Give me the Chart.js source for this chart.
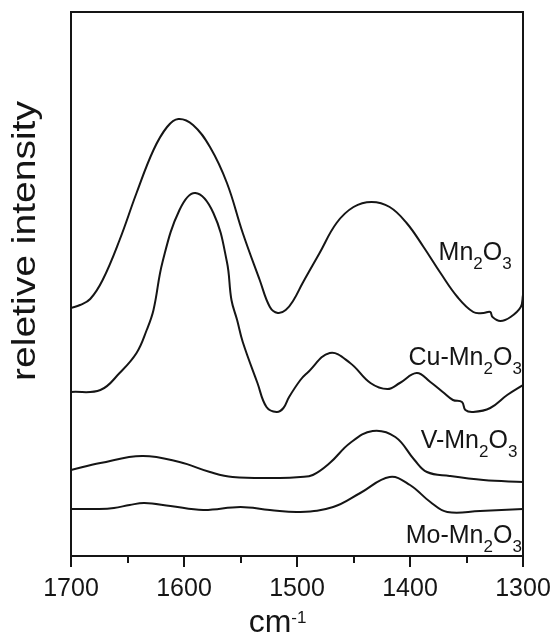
<!DOCTYPE html>
<html>
<head>
<meta charset="utf-8">
<script src="https://cdn.jsdelivr.net/npm/chart.js@4.4.0/dist/chart.umd.min.js"></script>
<style>
  html, body { margin: 0; padding: 0; background: #fff; }
  #wrap { width: 550px; height: 634px; }
</style>
</head>
<body>
<div id="wrap"><canvas id="chart" width="550" height="634"></canvas></div>
<script>
// wavenumber (cm-1) and stacked intensity (a.u.) for each sample
const mn2o3X = [1700, 1692, 1683, 1672, 1657, 1642, 1627, 1615, 1605, 1592, 1577, 1562, 1548, 1533, 1524, 1517, 1510, 1503, 1495, 1480, 1465, 1450, 1434, 1418, 1403, 1388, 1373, 1358, 1344, 1335, 1329, 1327, 1320, 1311, 1302, 1300];
const mn2o3Y = [248, 251, 257, 276, 316, 363, 406, 429, 437, 431, 409, 373, 323, 276, 249, 243, 246, 256, 273, 303, 333, 349, 354, 349, 333, 309, 283, 259, 244, 243, 244, 239, 235, 239, 249, 261];

const cuX = [1700, 1674, 1657, 1642, 1633, 1627, 1619, 1604, 1590, 1574, 1562, 1558, 1553, 1548, 1535, 1527, 1518, 1512, 1507, 1497, 1491, 1471, 1453, 1435, 1420, 1409, 1394, 1382, 1371, 1362, 1354, 1351, 1344, 1329, 1314, 1300];
const cuY = [164, 166, 183, 203, 226, 246, 294, 346, 363, 343, 294, 256, 236, 214, 173, 149, 144, 148, 159, 176, 183, 203, 193, 173, 167, 173, 183, 174, 164, 156, 154, 146, 144, 148, 161, 171];

const vX = [1700, 1674, 1637, 1604, 1577, 1557, 1515, 1497, 1486, 1471, 1453, 1433, 1413, 1396, 1385, 1365, 1335, 1300];
const vY = [86, 93, 100, 94, 84, 79, 78, 79, 81, 93, 113, 125, 119, 96, 84, 80, 76, 74];

const moX = [1700, 1675, 1662, 1648, 1635, 1612, 1583, 1550, 1524, 1497, 1468, 1444, 1418, 1400, 1382, 1367, 1338, 1300];
const moY = [47, 47, 48, 51, 53, 50, 46, 49, 46, 44, 49, 63, 79, 71, 54, 44, 45, 47];

const seriesNames = ['Mn2O3', 'Cu-Mn2O3', 'V-Mn2O3', 'Mo-Mn2O3'];
const tickLabels = [1700, 1600, 1500, 1400, 1300];
const minorTicks = [1650, 1550, 1450, 1350];

const FONT = '"Liberation Sans", Arial, sans-serif';
const INK = '#151515';

// where each name sits: right edge (cm-1) and baseline (a.u.)
const namePos = [
  { x: 1310, y: 296 },
  { x: 1301, y: 191 },
  { x: 1305, y: 108 },
  { x: 1301, y: 13 }
];

function toPoints(xs, ys) {
  return xs.map((x, i) => ({ x: x, y: ys[i] }));
}

// formula text, digits drawn as subscripts, right-aligned at x
function drawFormula(ctx, text, x, y, size) {
  const parts = text.match(/\d+|\D+/g);
  const subSize = 17;
  let w = 0;
  parts.forEach(p => {
    ctx.font = (/\d/.test(p) ? subSize : size) + 'px ' + FONT;
    w += ctx.measureText(p).width;
  });
  let cx = x - w;
  parts.forEach(p => {
    const sub = /\d/.test(p);
    ctx.font = (sub ? subSize : size) + 'px ' + FONT;
    ctx.fillText(p, cx, sub ? y + 9 : y);
    cx += ctx.measureText(p).width;
  });
}

const decor = {
  id: 'decor',
  afterDraw(chart) {
    const ctx = chart.ctx;
    const a = chart.chartArea;
    const sx = chart.scales.x, sy = chart.scales.y;
    ctx.save();
    ctx.strokeStyle = INK;
    ctx.fillStyle = INK;
    ctx.lineWidth = 2;
    ctx.strokeRect(a.left, a.top, a.right - a.left, a.bottom - a.top);

    // tick marks hang below the axis
    ctx.beginPath();
    tickLabels.forEach(v => {
      const px = Math.round(sx.getPixelForValue(v));
      ctx.moveTo(px, a.bottom); ctx.lineTo(px, a.bottom + 11);
    });
    minorTicks.forEach(v => {
      const px = Math.round(sx.getPixelForValue(v));
      ctx.moveTo(px, a.bottom); ctx.lineTo(px, a.bottom + 7);
    });
    ctx.stroke();

    ctx.textAlign = 'center';
    ctx.textBaseline = 'alphabetic';
    ctx.font = '25px ' + FONT;
    tickLabels.forEach(v => {
      ctx.fillText(String(v), sx.getPixelForValue(v), a.bottom + 40);
    });

    // x axis title: cm-1
    ctx.textAlign = 'left';
    ctx.font = '32px ' + FONT;
    const cmX = sx.getPixelForValue(1541);
    ctx.fillText('cm', cmX - 2, 632);
    const cmW = ctx.measureText('cm').width;
    ctx.font = '17px ' + FONT;
    ctx.fillText('-1', cmX - 2 + cmW, 623);

    // y axis title, drawn a little long
    ctx.save();
    ctx.translate(35, 241);
    ctx.rotate(-Math.PI / 2);
    ctx.font = '33px ' + FONT;
    const tw = ctx.measureText('reletive intensity').width;
    ctx.scale(280 / tw, 1);
    ctx.textAlign = 'center';
    ctx.fillText('reletive intensity', 0, 0);
    ctx.restore();

    // sample names
    seriesNames.forEach((name, i) => {
      drawFormula(ctx, name, sx.getPixelForValue(namePos[i].x), sy.getPixelForValue(namePos[i].y), 25);
    });
    ctx.restore();
  }
};

const lineStyle = {
  borderColor: INK,
  borderWidth: 2,
  pointRadius: 0,
  fill: false,
  tension: 0.4
};

const config = {
  type: 'line',
  data: {
    datasets: [
      Object.assign({ label: seriesNames[0], data: toPoints(mn2o3X, mn2o3Y) }, lineStyle),
      Object.assign({ label: seriesNames[1], data: toPoints(cuX, cuY) }, lineStyle),
      Object.assign({ label: seriesNames[2], data: toPoints(vX, vY) }, lineStyle),
      Object.assign({ label: seriesNames[3], data: toPoints(moX, moY) }, lineStyle)
    ]
  },
  options: {
    responsive: false,
    animation: false,
    devicePixelRatio: 1,
    layout: { padding: { left: 71, right: 27, top: 12, bottom: 78 } },
    plugins: { legend: { display: false }, tooltip: { enabled: false } },
    scales: {
      x: { type: 'linear', min: 1300, max: 1700, reverse: true, display: false },
      y: { type: 'linear', min: 0, max: 544, display: false }
    }
  },
  plugins: [decor]
};

new Chart(document.getElementById('chart').getContext('2d'), config);
</script>
</body>
</html>
